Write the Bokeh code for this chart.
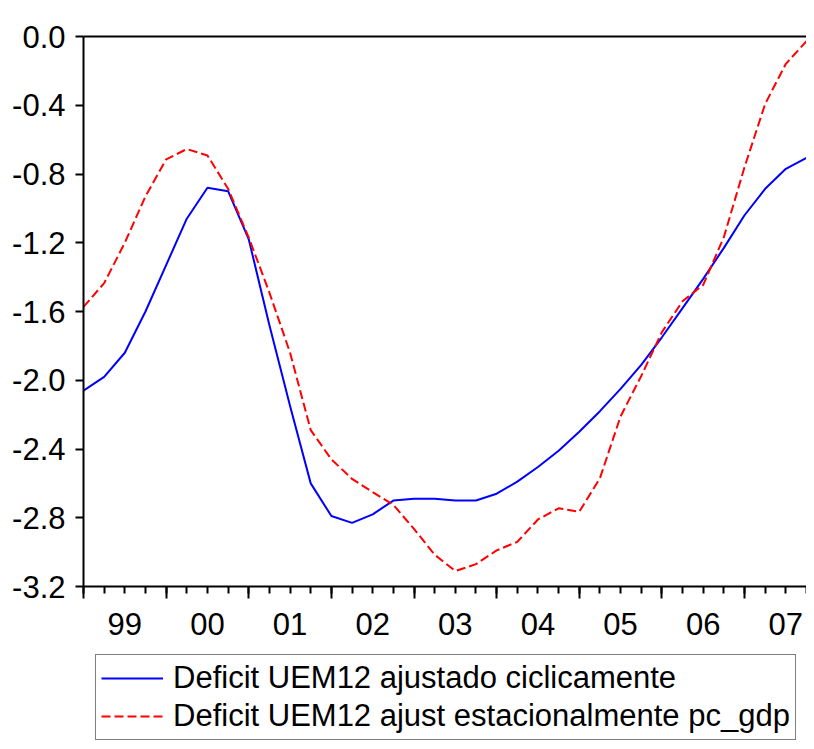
from bokeh.plotting import figure
from bokeh.layouts import column
from bokeh.models import LinearAxis, FixedTicker, Range1d, Legend, LegendItem
from bokeh.embed import file_html
from bokeh.resources import INLINE

# Quarterly observations 1999Q1 .. 2007Q4 (index 0..35)
quarters = list(range(36))
deficit_ciclico = [
    -2.06, -1.98, -1.84, -1.60, -1.33, -1.06, -0.88, -0.90,
    -1.18, -1.68, -2.15, -2.60, -2.79, -2.83, -2.78, -2.70,
    -2.69, -2.69, -2.70, -2.70, -2.66, -2.59, -2.505, -2.41,
    -2.30, -2.18, -2.05, -1.91, -1.75, -1.58, -1.41, -1.23,
    -1.04, -0.886, -0.77, -0.706,
]
deficit_estacional = [
    -1.573, -1.435, -1.20, -0.93, -0.715, -0.655, -0.692, -0.886,
    -1.17, -1.49, -1.84, -2.29, -2.46, -2.574, -2.651, -2.725,
    -2.865, -3.015, -3.11, -3.07, -2.99, -2.94, -2.81, -2.745,
    -2.765, -2.57, -2.21, -1.975, -1.72, -1.54, -1.445, -1.167,
    -0.76, -0.392, -0.159, -0.027,
]
year_starts = [0, 4, 8, 12, 16, 20, 24, 28, 32]
year_label_pos = [2, 6, 10, 14, 18, 22, 26, 30, 34]
year_labels = ["99", "00", "01", "02", "03", "04", "05", "06", "07"]
y_ticks = [0.0, -0.4, -0.8, -1.2, -1.6, -2.0, -2.4, -2.8, -3.2]
y_labels = ["0.0", "-0.4", "-0.8", "-1.2", "-1.6", "-2.0", "-2.4", "-2.8", "-3.2"]
series_names = ["Deficit UEM12 ajustado ciclicamente",
                "Deficit UEM12 ajust estacionalmente pc_gdp"]

FONT = "Liberation Sans"
FS = "31px"
BLUE = "#0000FF"
RED = "#FF0000"
DASH = "9 4"

W = 806
H_MAIN = 652
H_LEG = 89

p = figure(width=W, height=H_MAIN, output_backend="svg", toolbar_location=None,
           x_range=Range1d(0, 35), y_range=Range1d(-3.2, 0.0),
           min_border_left=83, min_border_right=0, min_border_top=36,
           min_border_bottom=H_MAIN - 586)
p.grid.visible = False
p.outline_line_color = None

p.line(quarters, deficit_ciclico, line_color=BLUE, line_width=2)
p.line(quarters, deficit_estacional, line_color=RED, line_width=2, line_dash=DASH)

# left axis
ya = p.yaxis[0]
ya.ticker = FixedTicker(ticks=y_ticks)
ya.major_label_overrides = {t: l for t, l in zip(y_ticks, y_labels)}
ya.axis_line_width = 2
ya.axis_line_color = "black"
ya.major_tick_line_width = 2
ya.major_tick_out = 8
ya.major_tick_in = 0
ya.minor_tick_line_color = None
ya.major_label_standoff = 10
ya.major_label_text_font = FONT
ya.major_label_text_font_size = FS
ya.major_label_text_color = "black"

# bottom axis: tick marks only (years major, quarters minor)
xa = p.xaxis[0]
xa.ticker = FixedTicker(ticks=year_starts, minor_ticks=quarters)
xa.major_label_overrides = {t: "" for t in year_starts}
xa.axis_line_width = 2
xa.axis_line_color = "black"
xa.major_tick_line_width = 2
xa.minor_tick_line_width = 2
xa.major_tick_out = 12
xa.major_tick_in = 0
xa.minor_tick_out = 7
xa.minor_tick_in = 0
xa.major_label_standoff = 0
xa.major_label_text_font_size = "1px"

# bottom axis: year labels centred in each year
xl = LinearAxis(ticker=FixedTicker(ticks=year_label_pos),
                major_label_overrides={t: l for t, l in zip(year_label_pos, year_labels)},
                axis_line_color=None, major_tick_line_color=None,
                minor_tick_line_color=None, major_label_standoff=8,
                major_label_text_font=FONT, major_label_text_font_size=FS,
                major_label_text_color="black")
p.add_layout(xl, "below")

# top border line
top = LinearAxis(ticker=FixedTicker(ticks=[]), axis_line_width=2,
                 axis_line_color="black", major_tick_line_color=None,
                 minor_tick_line_color=None, major_label_text_font_size="1px")
p.add_layout(top, "above")

# legend panel underneath (frame aligned with the main frame by the column)
q = figure(width=W, height=H_LEG, output_backend="svg", toolbar_location=None,
           x_axis_location=None, y_axis_location=None,
           x_range=Range1d(0, 1), y_range=Range1d(0, 1),
           min_border_left=0, min_border_right=0, min_border_top=0,
           min_border_bottom=0)
q.grid.visible = False
q.outline_line_color = None
# sample lines kept outside the visible range; only their legend glyphs show
d1 = q.line([-5, -4], [-5, -5], line_color=BLUE, line_width=2)
d2 = q.line([-5, -4], [-5, -5], line_color=RED, line_width=2, line_dash=DASH)

legend = Legend(items=[LegendItem(label=series_names[0], renderers=[d1]),
                       LegendItem(label=series_names[1], renderers=[d2])],
                location=(12, 1), orientation="vertical",
                label_text_font=FONT, label_text_font_size=FS,
                label_text_color="black",
                glyph_width=62, glyph_height=36, label_height=36,
                label_standoff=10, padding=5, spacing=2, margin=0,
                border_line_color="black", border_line_width=1.5,
                background_fill_color="white", background_fill_alpha=1.0)
q.add_layout(legend, "center")

layout = column(p, q, spacing=0)
open("out.html", "w").write(file_html(layout, INLINE))
